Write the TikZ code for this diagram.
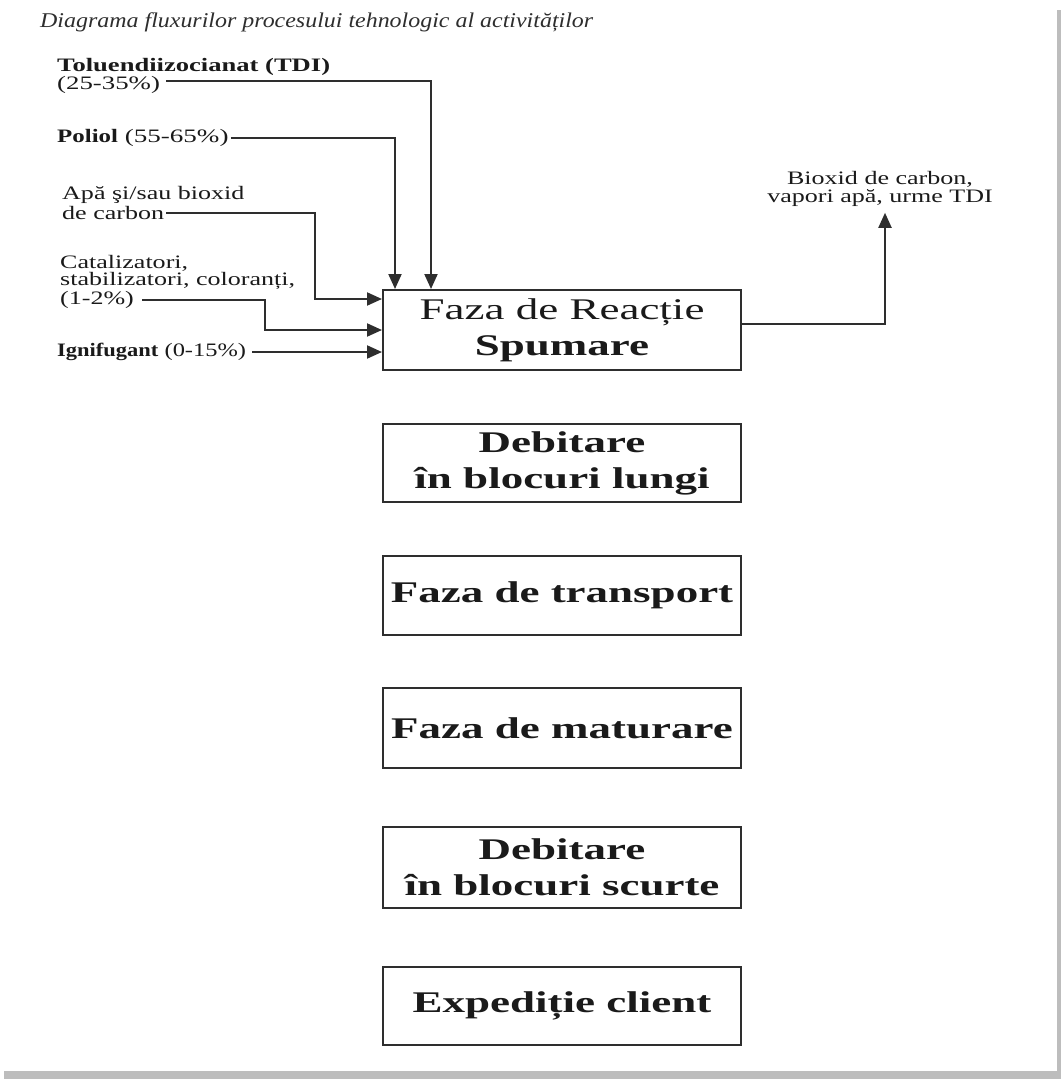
\documentclass[tikz,border=0pt]{standalone}
\usepackage{fontspec}
\usepackage{graphicx}
\setmainfont{Liberation Serif}
\newfontfamily\bigf[FakeStretch=1.5]{Liberation Serif}
\newfontfamily\smallf[FakeStretch=1.37,BoldFeatures={FakeStretch=1.26}]{Liberation Serif}
\newfontfamily\titlef[FakeStretch=1.14]{Liberation Serif}
\usetikzlibrary{arrows.meta}
\definecolor{ink}{HTML}{1A1A1A}
\definecolor{linec}{HTML}{2E2E2E}
\definecolor{shadowc}{HTML}{BDBDBD}
\begin{document}
\begin{tikzpicture}[x=1pt,y=-1pt,
  stagebox/.style={draw=linec,line width=2pt,minimum width=358pt,inner sep=0pt,align=center,text=ink,
    font=\bigf\fontsize{30}{36}\selectfont},
  lbl/.style={anchor=west,inner sep=0pt,text=ink,font=\smallf\fontsize{19}{18}\selectfont},
  arr/.style={draw=linec,line width=2pt,-{Triangle[length=15pt,width=13pt]}}]
\useasboundingbox (0,0) rectangle (1061,1079);
\fill[white] (0,0) rectangle (1061,1079);
% page shadow
\fill[shadowc] (1057,10) rectangle (1061,1079);
\fill[shadowc] (4,1071) rectangle (1061,1079);
% title
\node[anchor=west,inner sep=0pt,text=linec,font=\titlef\itshape\fontsize{21}{24}\selectfont] (title) at (40,22) {Diagrama fluxurilor procesului tehnologic al activităților};
% stages
\node[stagebox,minimum height=80pt] (s1) at (562,330) {Faza de Reacție\\\textbf{Spumare}};
\node[stagebox,minimum height=78pt] (s2) at (562,463) {\textbf{Debitare}\\\textbf{în blocuri lungi}};
\node[stagebox,minimum height=79pt] (s3) at (562,595) {\textbf{Faza de transport}};
\node[stagebox,minimum height=80pt] (s4) at (562,728) {\textbf{Faza de maturare}};
\node[stagebox,minimum height=81pt] (s5) at (562,867) {\textbf{Debitare}\\\textbf{în blocuri scurte}};
\node[stagebox,minimum height=78pt] (s6) at (562,1006) {\textbf{Expediție client}};
% input labels
\node[lbl] (tdiA) at (57,67) {\scalebox{1.11}[1]{\textbf{Toluendiizocianat (TDI)}}};
\node[lbl] (tdiB) at (57,85) {\scalebox{1.03}[1]{(25-35\%)}};
\node[lbl] (pol) at (57,138) {\scalebox{1.04}[1]{\textbf{Poliol} (55-65\%)}};
\node[lbl] (apaA) at (62,195) {Apă şi/sau bioxid};
\node[lbl] (apaB) at (62,213) {de carbon};
\node[lbl] (catA) at (60,263) {Catalizatori,};
\node[lbl] (catB) at (60,281) {stabilizatori, coloranți,};
\node[lbl] (catC) at (60,300) {(1-2\%)};
\node[lbl] (ign) at (57,352) {\scalebox{0.94}[1]{\textbf{Ignifugant} (0-15\%)}};
% output label
\node[inner sep=0pt,align=center,text=ink,font=\smallf\fontsize{19}{18}\selectfont] (out) at (880,189) {Bioxid de carbon,\\vapori apă, urme TDI};
% connectors
\draw[arr] ([shift={(6pt,4pt)}]tdiB.east) -| ([xshift=49pt]s1.north west);
\draw[arr] ([xshift=2pt]pol.east) -| ([xshift=13pt]s1.north west);
\draw[arr] ([xshift=2pt]apaB.east) -| ([shift={(-67pt,-10pt)}]s1.north west) -- ([yshift=-10pt]s1.north west);
\draw[arr] ([xshift=8pt]catC.east) -| ([xshift=-117pt]s1.west) -- (s1.west);
\draw[arr] ([xshift=6pt]ign.east) -- ([yshift=-22pt]s1.west);
\draw[arr] ([yshift=6pt]s1.east) -| ([shift={(5pt,-6pt)}]out.south);
\end{tikzpicture}
\end{document}
